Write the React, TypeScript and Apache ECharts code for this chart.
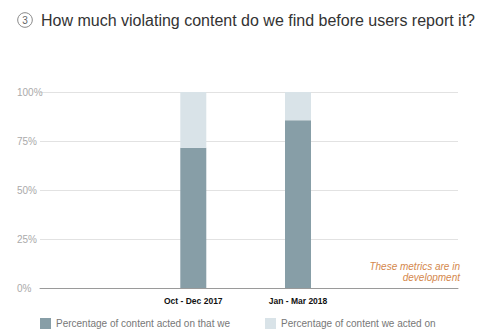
import React, { useEffect, useRef } from "react";
import * as echarts from "echarts";

// Quarters shown on the horizontal axis, positioned at 1 and 2
const quarters = ["Oct - Dec 2017", "Jan - Mar 2018"];
const quarterPos = [1, 2];

// Share of actioned content found before users reported it (%)
const foundFirst = [71.6, 85.6];
// Remainder of the content acted on (%)
const reportedFirst = [28.4, 14.4];

const yTicks = [0, 25, 50, 75, 100];

const seriesNames = [
  "Percentage of content acted on that we",
  "Percentage of content we acted on",
];

const COLORS = ["#879ea7", "#d9e3e8"];
const BAR_WIDTH = 26;
const FONT = "'Liberation Sans', Arial, sans-serif";

// Stacked segment: each datum is [x, from, to] in axis units
const renderSegment = (_params: any, api: any) => {
  const x = api.value(0);
  const p0 = api.coord([x, api.value(1)]);
  const p1 = api.coord([x, api.value(2)]);
  return {
    type: "rect",
    shape: {
      x: p0[0] - BAR_WIDTH / 2,
      y: p1[1],
      width: BAR_WIDTH,
      height: p0[1] - p1[1],
    },
    style: { fill: api.visual("color") },
  };
};

export default function App() {
  const ref = useRef<HTMLDivElement>(null);

  useEffect(() => {
    if (!ref.current) return;
    const chart = echarts.init(ref.current, null, { renderer: "svg" });

    const darkData = quarterPos.map((x, i) => [x, 0, foundFirst[i]]);
    const lightData = quarterPos.map((x, i) => [
      x,
      foundFirst[i],
      foundFirst[i] + reportedFirst[i],
    ]);

    const legendCommon = {
      top: 318,
      padding: 0,
      itemWidth: 11,
      itemHeight: 11,
      icon: "rect",
      selectedMode: false,
      textStyle: { fontSize: 10, color: "#777", fontFamily: FONT },
    };

    chart.setOption({
      animation: false,
      backgroundColor: "#ffffff",
      textStyle: { fontFamily: FONT },
      grid: { left: 40, right: 32, top: 92, bottom: 46 },
      legend: [
        { ...legendCommon, data: [seriesNames[0]], left: 40 },
        { ...legendCommon, data: [seriesNames[1]], left: 265 },
      ],
      xAxis: {
        type: "value",
        min: -0.464,
        max: 3.528,
        splitLine: { show: false },
        axisTick: { show: false },
        axisLine: { show: true, lineStyle: { color: "#9a9a9a", width: 1 } },
        axisLabel: {
          customValues: quarterPos,
          formatter: (v: number) => {
            const i = quarterPos.indexOf(Math.round(v));
            return i >= 0 ? quarters[i] : "";
          },
          fontSize: 8.5,
          fontWeight: "bold",
          color: "#111",
          margin: 8,
          fontFamily: FONT,
        },
      },
      yAxis: {
        type: "value",
        min: 0,
        max: 100,
        interval: 25,
        axisLine: { show: false },
        axisTick: { show: false },
        splitLine: { lineStyle: { color: "#e2e2e2", width: 1 } },
        axisLabel: {
          formatter: (v: number) => (yTicks.includes(v) ? v + "%" : ""),
          align: "left",
          margin: 23,
          fontSize: 10,
          color: "#aaaaaa",
          fontFamily: FONT,
        },
      },
      series: [
        {
          name: seriesNames[0],
          type: "custom",
          renderItem: renderSegment,
          itemStyle: { color: COLORS[0] },
          encode: { x: 0, y: [1, 2] },
          data: darkData,
        },
        {
          name: seriesNames[1],
          type: "custom",
          renderItem: renderSegment,
          itemStyle: { color: COLORS[1] },
          encode: { x: 0, y: [1, 2] },
          data: lightData,
        },
      ],
      graphic: [
        {
          type: "circle",
          shape: { cx: 25, cy: 20, r: 7.3 },
          style: { fill: "none", stroke: "#888", lineWidth: 1 },
        },
        {
          type: "text",
          x: 25,
          y: 20.5,
          style: {
            text: "3",
            fontSize: 10,
            fill: "#666",
            fontFamily: FONT,
            align: "center",
            verticalAlign: "middle",
          },
        },
        {
          type: "text",
          x: 41,
          y: 20,
          style: {
            text: "How much violating content do we find before users report it?",
            fontSize: 16,
            fill: "#333",
            fontFamily: FONT,
            verticalAlign: "middle",
          },
        },
        {
          type: "text",
          x: 460,
          y: 272,
          style: {
            text: "These metrics are in\ndevelopment",
            fontSize: 10,
            fontStyle: "italic",
            fill: "#d4874c",
            fontFamily: FONT,
            align: "right",
            verticalAlign: "middle",
            lineHeight: 11,
          },
        },
      ],
    });
    return () => chart.dispose();
  }, []);

  return (
    <div
      ref={ref}
      style={{ position: "absolute", left: 0, top: 0, width: 490, height: 334 }}
    />
  );
}
